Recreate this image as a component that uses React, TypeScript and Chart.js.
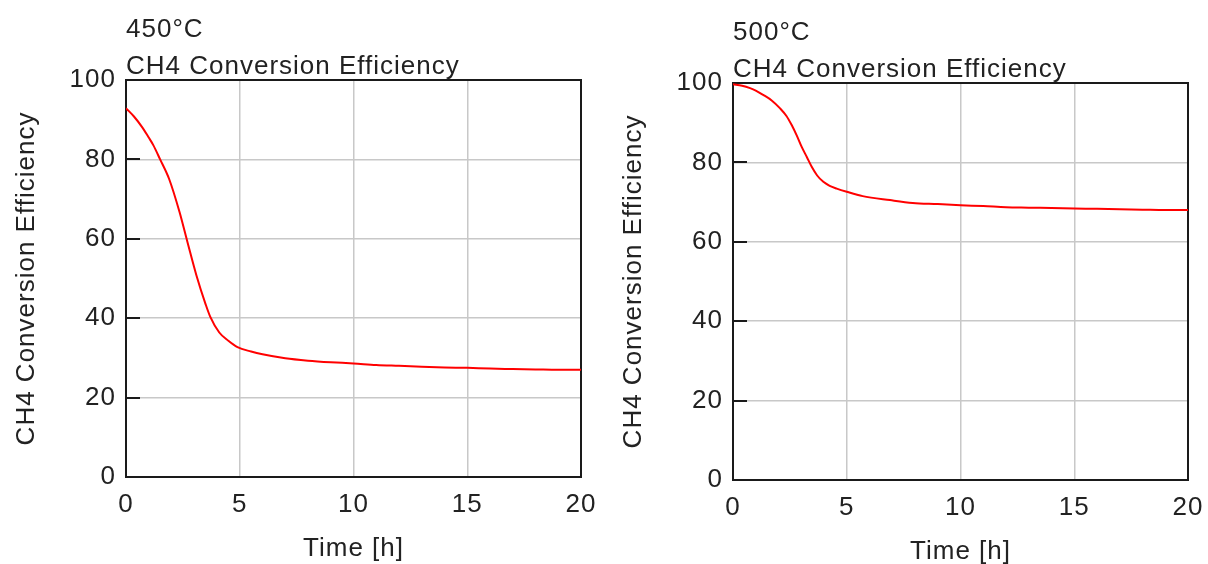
import React, { useEffect, useRef } from "react";
import { Chart, registerables } from "chart.js";

Chart.register(...registerables);

// ---- data ----
const timeLeft = [0, 0.35, 0.7, 1.0, 1.2, 1.5, 1.9, 2.35, 2.7, 3.1, 3.5, 3.7, 4.1, 4.5, 4.9, 5.5, 6, 7, 8, 9, 10, 11, 12, 13, 14, 15, 16, 17, 18, 19, 20];
const eff450 = [92.9, 90.8, 88.2, 85.5, 83.6, 80.0, 75.0, 66.8, 59.2, 50.7, 43.5, 40.4, 36.4, 34.3, 32.7, 31.6, 30.9, 29.9, 29.3, 28.9, 28.6, 28.2, 28.0, 27.8, 27.6, 27.5, 27.3, 27.2, 27.1, 27.0, 27.0];

const timeRight = [0, 0.4, 0.75, 1.0, 1.33, 1.7, 2.07, 2.35, 2.58, 2.8, 3.02, 3.25, 3.46, 3.7, 3.97, 4.25, 4.56, 5.0, 5.7, 6.9, 7.9, 9, 10, 11, 12, 13, 14, 15, 16, 17, 18, 19, 20];
const eff500 = [99.7, 99.3, 98.7, 98.1, 97.0, 95.6, 93.6, 91.7, 89.4, 86.8, 83.9, 81.3, 78.9, 76.7, 75.1, 74.1, 73.4, 72.6, 71.5, 70.5, 69.8, 69.5, 69.2, 69.0, 68.7, 68.6, 68.5, 68.4, 68.3, 68.2, 68.1, 68.0, 68.0];

const titleLeft = ["450°C", "CH4 Conversion Efficiency"];
const titleRight = ["500°C", "CH4 Conversion Efficiency"];
const yAxisTitle = "CH4 Conversion Efficiency";
const xAxisTitle = "Time [h]";
const xMin = 0, xMax = 20, xStep = 5;
const yMin = 0, yMax = 100, yStep = 20;

const FONT_FAMILY = '"Liberation Sans", Arial, sans-serif';
const FONT_SIZE = 26;
const TEXT_COLOR = "#222";
const SPACING = "1px";

const spacingPlugin = {
  id: "spacing",
  beforeUpdate(chart: any) { chart.ctx.letterSpacing = SPACING; },
  beforeDraw(chart: any) { chart.ctx.letterSpacing = SPACING; },
};

const framePlugin = {
  id: "frame",
  beforeDatasetsDraw(chart: any) {
    const { ctx, chartArea } = chart;
    const { left, top, right, bottom } = chartArea;
    const ys = chart.scales.y;
    ctx.save();
    ctx.strokeStyle = "#1a1a1a";
    ctx.lineWidth = 2;
    ys.ticks.forEach((t: any) => {
      if (t.value > ys.min && t.value < ys.max) {
        const py = Math.round(ys.getPixelForValue(t.value));
        ctx.beginPath();
        ctx.moveTo(left, py);
        ctx.lineTo(left + 14, py);
        ctx.stroke();
      }
    });
    ctx.strokeRect(left, top, right - left, bottom - top);
    ctx.restore();
  },
  afterDraw(chart: any) {
    const { ctx, chartArea } = chart;
    const lines: string[] = chart.options.plugins.frame.lines;
    ctx.save();
    ctx.letterSpacing = SPACING;
    ctx.font = `${FONT_SIZE}px ${FONT_FAMILY}`;
    ctx.fillStyle = TEXT_COLOR;
    ctx.textAlign = "left";
    ctx.textBaseline = "alphabetic";
    ctx.fillText(lines[0], chartArea.left, chartArea.top - 43);
    ctx.fillText(lines[1], chartArea.left, chartArea.top - 6);
    ctx.restore();
  },
};

function zeroPad(scale: any) {
  scale.paddingLeft = 0;
  scale.paddingRight = 0;
  scale.paddingTop = 0;
  scale.paddingBottom = 0;
}

function makeConfig(times: number[], values: number[], lines: string[]): any {
  const font = { family: FONT_FAMILY, size: FONT_SIZE };
  return {
    type: "line",
    data: {
      datasets: [
        {
          data: times.map((t, i) => ({ x: t, y: values[i] })),
          borderColor: "#ff0000",
          borderWidth: 2,
          pointRadius: 0,
          fill: false,
          cubicInterpolationMode: "monotone",
        },
      ],
    },
    options: {
      animation: false,
      responsive: false,
      devicePixelRatio: 1,
      layout: { padding: { top: 80, right: 23, left: 0, bottom: 0 } },
      plugins: {
        legend: { display: false },
        title: { display: false },
        tooltip: { enabled: false },
        frame: { lines },
      },
      scales: {
        x: {
          type: "linear",
          min: xMin,
          max: xMax,
          afterFit(scale: any) { scale.height = 87; zeroPad(scale); },
          ticks: { stepSize: xStep, color: TEXT_COLOR, font, padding: 12, maxRotation: 0 },
          grid: { color: "#c8c8c8", lineWidth: 1.5, drawTicks: false },
          border: { display: false },
          title: { display: true, text: xAxisTitle, color: TEXT_COLOR, font, padding: { top: 0, bottom: 0 } },
        },
        y: {
          type: "linear",
          min: yMin,
          max: yMax,
          afterFit(scale: any) { scale.width = 126; zeroPad(scale); },
          ticks: { stepSize: yStep, color: TEXT_COLOR, font, padding: 10 },
          grid: { color: "#c8c8c8", lineWidth: 1.5, drawTicks: false },
          border: { display: false },
          title: { display: true, text: yAxisTitle, color: TEXT_COLOR, font, padding: { top: 11, bottom: 0 } },
        },
      },
    },
    plugins: [spacingPlugin, framePlugin],
  };
}

export default function App() {
  const leftRef = useRef<HTMLCanvasElement>(null);
  const rightRef = useRef<HTMLCanvasElement>(null);

  useEffect(() => {
    const c1 = new Chart(leftRef.current as HTMLCanvasElement, makeConfig(timeLeft, eff450, titleLeft));
    const c2 = new Chart(rightRef.current as HTMLCanvasElement, makeConfig(timeRight, eff500, titleRight));
    return () => {
      c1.destroy();
      c2.destroy();
    };
  }, []);

  return (
    <div style={{ position: "fixed", left: 0, top: 0, width: 1208, height: 564, overflow: "hidden", background: "#fff" }}>
      <canvas ref={leftRef} width={604} height={564} style={{ position: "absolute", left: 0, top: 0, width: 604, height: 564 }} />
      <canvas ref={rightRef} width={604} height={564} style={{ position: "absolute", left: 607, top: 3, width: 604, height: 564 }} />
    </div>
  );
}
